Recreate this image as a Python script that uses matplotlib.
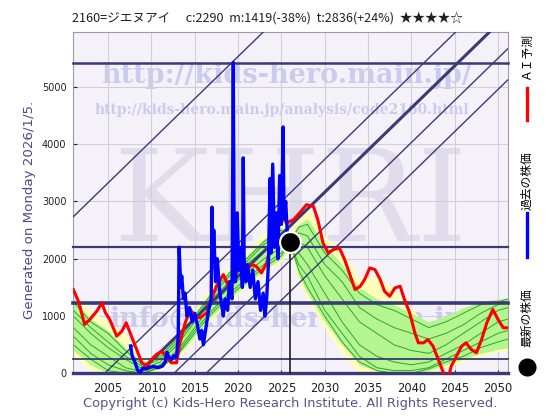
import matplotlib
matplotlib.use("Agg")
import matplotlib.pyplot as plt

# ---- data ----
title = "2160=ジエヌアイ　 c:2290  m:1419(-38%)  t:2836(+24%)  ★★★★☆"

past_years = [2007.6, 2007.8, 2008.1, 2008.4, 2008.7, 2009.0, 2009.4, 2009.8, 2010.3, 2010.8,
              2011.3, 2011.6, 2011.8, 2012.0, 2012.3, 2012.6, 2012.9, 2013.1, 2013.2, 2013.4,
              2013.5, 2013.7, 2013.9, 2014.1, 2014.4, 2014.7, 2015.0, 2015.3, 2015.6, 2015.8,
              2016.0, 2016.3, 2016.6, 2016.9, 2017.0, 2017.1, 2017.2, 2017.4, 2017.6, 2017.9,
              2018.1, 2018.3, 2018.5, 2018.8, 2019.0, 2019.3, 2019.45, 2019.55, 2019.7, 2019.9,
              2020.1, 2020.3, 2020.5, 2020.6, 2020.7, 2020.9, 2021.1, 2021.4, 2021.7, 2022.0,
              2022.3, 2022.6, 2022.9, 2023.1, 2023.3, 2023.5, 2023.7, 2023.8, 2024.0, 2024.2,
              2024.4, 2024.6, 2024.8, 2025.0, 2025.2, 2025.3, 2025.5, 2025.7, 2025.9, 2026.0]
past_price = [480, 300, 200, 60, 20, 90, 80, 110, 120, 100,
              130, 200, 370, 290, 240, 310, 280, 650, 2200, 1500,
              1700, 1300, 1400, 1000, 1150, 900, 1050, 850, 600, 750,
              500, 800, 1100, 1300, 2900, 2000, 2500, 1600, 2000, 1400,
              1200, 1000, 1300, 1100, 1600, 1300, 5420, 2200, 1600, 2800,
              1800, 2200, 1500, 3760, 2000, 1600, 1900, 1500, 1800, 1300,
              1600, 1100, 1400, 1000, 1300, 1900, 3400, 2100, 3650, 2200,
              2800, 2000, 3450, 2600, 4300, 2700, 3000, 2400, 2300, 2290]

ai_years = [2001.0, 2001.6, 2002.3, 2002.9, 2003.7, 2004.3, 2004.7, 2005.2, 2006.0, 2006.6,
            2007.1, 2007.7, 2008.3, 2008.9, 2009.5, 2010.0, 2010.6, 2011.2, 2011.8, 2012.3,
            2012.9, 2013.3, 2013.9, 2014.5, 2015.0, 2015.6, 2016.4, 2016.9, 2017.5, 2018.3,
            2018.9, 2019.4, 2020.2, 2020.8, 2021.6, 2022.1, 2022.7, 2023.3, 2023.9, 2024.4,
            2025.0, 2025.6, 2026.4, 2027.1, 2027.9, 2028.7, 2029.2, 2029.8, 2030.4, 2031.0,
            2031.7, 2032.3, 2032.9, 2033.5, 2034.1, 2034.6, 2035.2, 2035.8, 2036.4, 2036.9,
            2037.5, 2038.1, 2038.7, 2039.2, 2039.8, 2040.4, 2040.8, 2041.4, 2041.9, 2042.5,
            2043.1, 2043.7, 2044.2, 2044.6, 2045.2, 2045.8, 2046.3, 2046.9, 2047.5, 2048.1,
            2048.7, 2049.4, 2050.0, 2050.6, 2051.0]
ai_price = [1463, 1254, 854, 941, 1086, 1231, 1057, 941, 650, 737,
            883, 650, 418, 186, 128, 244, 331, 389, 273, 186,
            186, 534, 883, 1115, 999, 970, 1057, 1289, 1521, 1724,
            1521, 1637, 1869, 1782, 1898, 1869, 1753, 1927, 2276, 2566,
            2740, 2624, 2682, 2798, 2943, 2914, 2682, 2276, 2102, 2160,
            2189, 1985, 1724, 1463, 1521, 1637, 1840, 1811, 1637, 1434,
            1347, 1492, 1521, 1289, 1057, 708, 534, 534, 592, 476,
            244, 12, -116, 128, 302, 476, 534, 418, 360, 592,
            883, 1115, 941, 796, 796]

band_years = [2001, 2003, 2005, 2007, 2009, 2011, 2013, 2015, 2017, 2019, 2021, 2023, 2025, 2026,
              2027, 2028, 2030, 2032, 2034, 2036, 2038, 2040, 2042, 2044, 2046, 2048, 2050, 2051.2]
wide_hi = [1420, 1100, 900, 700, 250, 350, 700, 1100, 1550, 1850, 2150, 2450, 2650, 2500,
           2750, 2900, 2400, 2150, 1650, 1700, 1450, 1150, 750, 650, 800, 950, 1150, 1200]
wide_lo = [300, 50, 0, 0, 0, 50, 250, 600, 950, 1250, 1500, 1750, 1950, 2150,
           1600, 1300, 800, 350, 0, 0, 0, 0, 0, 100, 200, 300, 380, 400]
core_hi = [1300, 950, 750, 450, 200, 330, 650, 1050, 1450, 1800, 2050, 2350, 2550, 2400,
           2600, 2700, 2250, 1900, 1500, 1300, 1200, 1050, 900, 1000, 1150, 1250, 1300, 1320]
core_lo = [400, 150, 0, 0, 0, 100, 300, 650, 1000, 1300, 1550, 1800, 2000, 2200,
           1700, 1400, 900, 500, 150, 50, 0, 0, 50, 150, 250, 350, 420, 450]

scenarios = [
    [1250, 900, 700, 400, 150, 300, 600, 1000, 1400, 1750, 2000, 2300, 2500, 2290,
     2550, 2600, 2100, 1800, 1400, 1200, 1100, 950, 800, 900, 1050, 1200, 1250, 1300],
    [1000, 700, 450, 250, 80, 200, 500, 900, 1300, 1600, 1900, 2150, 2350, 2290,
     2300, 2200, 1700, 1300, 900, 700, 500, 400, 350, 500, 700, 900, 1100, 1150],
    [800, 500, 300, 100, 30, 150, 400, 800, 1200, 1500, 1750, 2000, 2200, 2290,
     2100, 1900, 1400, 900, 500, 300, 200, 150, 200, 350, 500, 700, 900, 950],
    [650, 350, 150, 50, 0, 120, 350, 750, 1100, 1400, 1650, 1900, 2100, 2290,
     1900, 1700, 1100, 700, 300, 100, 50, 50, 100, 250, 400, 550, 700, 750],
    [500, 250, 50, 0, 0, 100, 320, 700, 1050, 1350, 1600, 1850, 2050, 2290,
     1800, 1500, 1000, 550, 200, 50, 0, 0, 80, 200, 300, 450, 550, 600],
    [1100, 800, 550, 300, 120, 250, 550, 950, 1350, 1700, 1950, 2250, 2450, 2290,
     2450, 2400, 1900, 1600, 1150, 950, 800, 700, 600, 700, 850, 1050, 1200, 1250],
]

levels = [5420, 2200, 1232, 245, 0]
level_widths = [1.8, 1.6, 2.6, 1.3, 2.4]
trend_start = [1982.4, 2004.6, 2008.5, 2012.6, 2016.3]
trend_widths = [1.0, 1.0, 2.2, 1.0, 1.0]
trend_slope = 147

latest_year, latest_price = 2026.01, 2290

jp = ["Noto Sans CJK JP", "DejaVu Sans"]
navy = "#3a3a78"

fig = plt.figure(figsize=(5.6, 4.2), dpi=100)
ax = fig.add_axes([0.131, 0.1095, 0.777, 0.815])
ax.set_facecolor("#f5f1f8")
ax.set_xlim(2001.0, 2051.2)
ax.set_ylim(-10, 5960)

# watermarks
wm = "#cbcbf0"
ax.text(0.49, 0.873, "http://kids-hero.main.jp/", transform=ax.transAxes, ha="center", va="center",
        fontsize=19.5, family="DejaVu Serif", weight="bold", color=wm, zorder=0.5)
ax.text(0.48, 0.771, "http://kids-hero.main.jp/analysis/code2160.html", transform=ax.transAxes,
        ha="center", va="center", fontsize=10, family="DejaVu Serif", weight="bold", color=wm, zorder=0.5)
ax.text(0.50, 0.49, "KHRI", transform=ax.transAxes, ha="center", va="center",
        fontsize=92, family="DejaVu Serif", color="#e0dcec", zorder=0.5)
ax.text(0.49, 0.16, "info@kids-hero.main.jp", transform=ax.transAxes, ha="center", va="center",
        fontsize=19.5, family="DejaVu Serif", weight="bold", color=wm, zorder=0.5)

ax.set_xticks(range(2005, 2051, 5))
ax.set_yticks(range(0, 5001, 1000))
ax.grid(True, color="#cfcfd8", lw=0.8, zorder=0.6)
ax.set_axisbelow(True)

ax.fill_between(band_years, wide_lo, wide_hi, color="#ffffb8", lw=0, zorder=1)
ax.fill_between(band_years, core_lo, core_hi, color="#b4f590", lw=0, zorder=1.5)
for s in scenarios:
    ax.plot(band_years, s, color="#2aa82a", lw=0.7, zorder=2)

for lv, lw in zip(levels, level_widths):
    ax.axhline(lv, color=navy, lw=lw, zorder=3, clip_on=False)
for x0, lw in zip(trend_start, trend_widths):
    ax.axline((x0, 0), slope=trend_slope, color=navy, lw=lw, zorder=3)

ax.plot(ai_years, ai_price, color="#ff0000", lw=2.2, zorder=4)
ax.plot(past_years, past_price, color="#0000ff", lw=2.4, zorder=5)
ax.plot([latest_year, latest_year], [0, latest_price], color="#202020", lw=1.2, zorder=5)
ax.plot([latest_year], [latest_price], "o", ms=15, color="black", mec="white", mew=1.5, zorder=6)

for sp in ax.spines.values():
    sp.set_color("#9a9aa8")
    sp.set_linewidth(0.8)
ax.tick_params(axis="x", labelsize=8.3, colors="#222222", direction="in", length=3, pad=6)
ax.tick_params(axis="y", labelsize=7, colors="#222222", direction="in", length=3, pad=5)

fig.text(72 / 560, 1 - 18 / 420, title, ha="left", va="center", fontsize=9.1, family=jp, color="#202020")
fig.text(30 / 560, 1 - 210 / 420, "Generated on Monday 2026/1/5.", rotation=90, ha="center", va="center",
         fontsize=9.6, color="#4a4a8c")
fig.text(290 / 560, 1 - 403 / 420, "Copyright (c) Kids-Hero Research Institute. All Rights Reserved.",
         ha="center", va="center", fontsize=9.4, color="#55558a")

# rotated legend on the right
fig.text(527 / 560, 1 - 56 / 420, "ＡＩ予測", rotation=90, ha="center", va="center", fontsize=8.5, family=jp)
fig.lines.append(plt.Line2D([527 / 560] * 2, [1 - 88 / 420, 1 - 120 / 420], transform=fig.transFigure,
                            color="#ff0000", lw=2.4))
fig.text(527 / 560, 1 - 181 / 420, "過去の株価", rotation=90, ha="center", va="center", fontsize=8.5, family=jp)
fig.lines.append(plt.Line2D([527 / 560] * 2, [1 - 213 / 420, 1 - 257 / 420], transform=fig.transFigure,
                            color="#0000ff", lw=2.4))
fig.text(527 / 560, 1 - 318 / 420, "最新の株価", rotation=90, ha="center", va="center", fontsize=8.5, family=jp)
fig.lines.append(plt.Line2D([527 / 560], [1 - 367 / 420], transform=fig.transFigure,
                            marker="o", ms=12, color="black"))

fig.savefig("out.png", dpi=100)
